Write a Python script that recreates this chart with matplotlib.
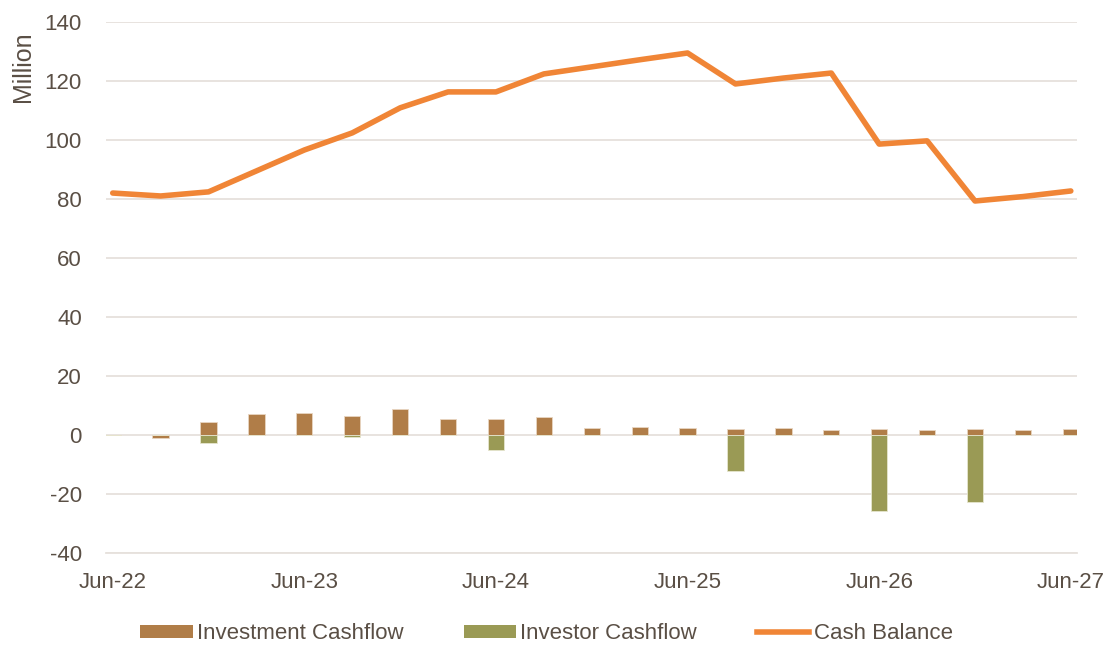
import matplotlib.pyplot as plt
from matplotlib.lines import Line2D
from matplotlib.patches import Patch

plt.rcParams['font.family'] = ['Liberation Sans', 'DejaVu Sans']
plt.rcParams['axes.unicode_minus'] = False

quarters = list(range(21))
tick_labels = ['Jun-22', 'Jun-23', 'Jun-24', 'Jun-25', 'Jun-26', 'Jun-27']

cash_balance = [82.0, 81.0, 82.4, 89.5, 96.6, 102.4, 110.9, 116.3, 116.3, 122.4, 124.8,
                127.2, 129.5, 119.0, 121.0, 122.7, 98.6, 99.7, 79.3, 80.8, 82.7]
investment_cf = [0.0, -1.0, 4.2, 7.0, 7.3, 6.5, 8.7, 5.5, 5.3, 6.1, 2.3,
                 2.6, 2.3, 1.9, 2.3, 1.7, 2.0, 1.5, 2.0, 1.5, 2.0]
investor_cf = [0.0, 0.0, -2.9, 0.0, 0.0, -0.8, 0.0, 0.0, -5.2, 0.0, 0.0,
               0.0, 0.0, -12.2, 0.0, 0.0, -25.9, 0.0, -22.7, 0.0, 0.0]

brown = '#B07D48'
green = '#9A9A55'
orange = '#F08536'
text_col = '#5A4F45'
grid_col = '#E6E1DC'

fig = plt.figure(figsize=(11.11, 6.48), dpi=100)
ax = fig.add_axes([0.095, 0.147, 0.874, 0.819])

ax.bar(quarters, investment_cf, width=0.34, color=brown, edgecolor='#E8D6C2', linewidth=0.6, zorder=2)
ax.bar(quarters, investor_cf, width=0.34, color=green, edgecolor='#E6E6CF', linewidth=0.6, zorder=2)
ax.plot(quarters, cash_balance, color=orange, linewidth=4, solid_joinstyle='round',
        solid_capstyle='round', zorder=3)

ax.set_ylim(-40, 140)
ax.set_yticks(range(-40, 141, 20))
ax.set_xlim(-0.15, 20.12)
ax.set_xticks(range(0, 21, 4))
ax.set_xticklabels(tick_labels)

ax.grid(axis='y', color=grid_col, linewidth=1.3, zorder=0)
ax.set_axisbelow(True)
for s in ['top', 'right', 'left']:
    ax.spines[s].set_visible(False)
ax.spines['bottom'].set_color(grid_col)
ax.spines['bottom'].set_linewidth(1.3)
ax.tick_params(axis='both', length=0, labelsize=16, colors=text_col)
ax.tick_params(axis='y', pad=17)
ax.tick_params(axis='x', pad=14)

fig.text(0.021, 0.897, 'Million', rotation=90, ha='center', va='center', fontsize=18, color=text_col)

handles = [Patch(facecolor=brown, label='Investment Cashflow'),
           Patch(facecolor=green, label='Investor Cashflow'),
           Line2D([0], [0], color=orange, linewidth=4, label='Cash Balance')]
fig.legend(handles=handles, loc='center', bbox_to_anchor=(0.492, 0.022), ncol=3, frameon=False,
           fontsize=16, labelcolor=text_col, handlelength=2.35, handleheight=0.55,
           handletextpad=0.2, columnspacing=2.7)

fig.savefig('out.png', dpi=100)
